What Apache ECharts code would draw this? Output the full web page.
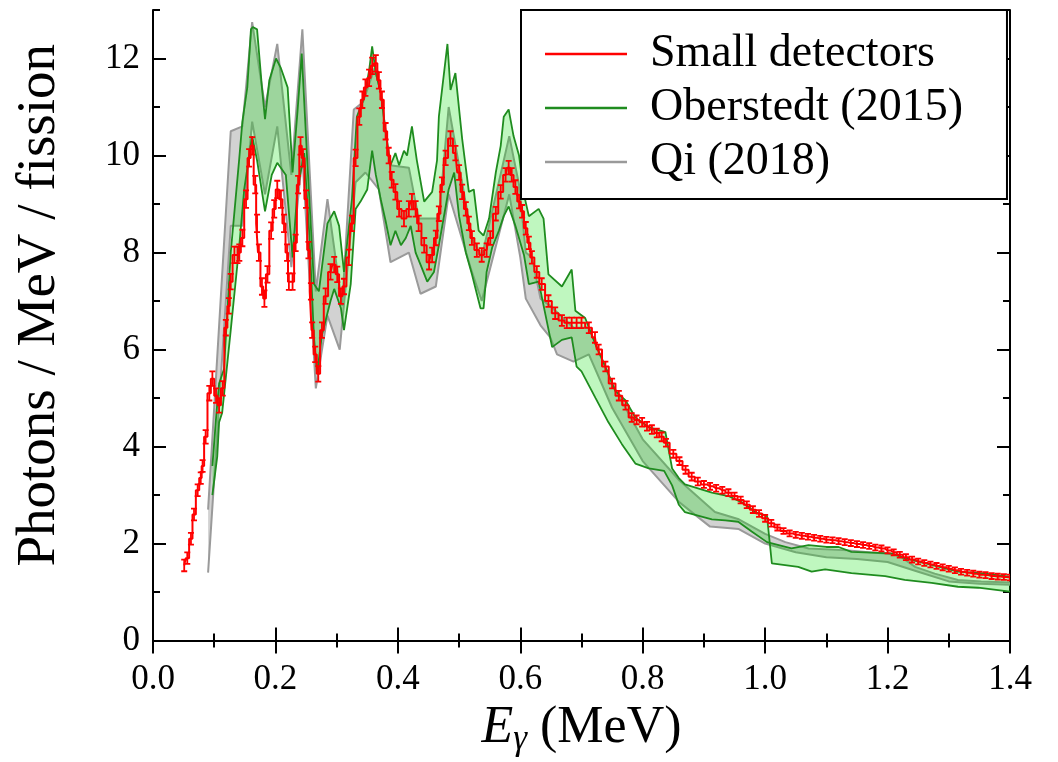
<!DOCTYPE html>
<html>
<head>
<meta charset="utf-8">
<script src="https://cdn.jsdelivr.net/npm/echarts@6/dist/echarts.min.js"></script>
<style>
  html, body { margin: 0; padding: 0; background: #fff; }
  #chart { width: 1058px; height: 762px; }
</style>
</head>
<body>
<div id="chart"></div>
<script>
// Small detectors: [E (MeV), photons/MeV/fission, error]
const smallDet = [
  [0.051,1.55,0.12],[0.056,1.70,0.12],[0.062,2.10,0.12],[0.067,2.60,0.12],[0.073,3.10,0.12],
  [0.078,3.35,0.12],[0.081,3.60,0.12],[0.086,4.20,0.14],[0.092,5.10,0.15],[0.097,5.40,0.15],
  [0.103,5.05,0.15],[0.108,4.85,0.15],[0.114,5.20,0.15],[0.119,6.45,0.16],[0.124,6.90,0.16],
  [0.127,7.40,0.16],[0.133,7.95,0.17],[0.138,7.95,0.17],[0.141,8.00,0.17],[0.146,8.30,0.17],
  [0.152,9.10,0.18],[0.157,9.95,0.18],[0.162,10.20,0.18],[0.167,9.40,0.18],[0.170,8.60,0.18],
  [0.173,8.00,0.17],[0.178,7.30,0.17],[0.182,7.05,0.17],[0.187,7.55,0.17],[0.193,8.45,0.17],
  [0.198,8.90,0.18],[0.203,9.30,0.18],[0.209,9.10,0.18],[0.214,8.60,0.18],[0.219,8.00,0.17],
  [0.222,7.40,0.17],[0.228,7.40,0.17],[0.233,8.20,0.17],[0.237,9.40,0.18],[0.241,10.20,0.18],
  [0.245,9.95,0.18],[0.250,9.10,0.18],[0.254,8.05,0.17],[0.258,7.20,0.17],[0.260,6.40,0.16],
  [0.265,5.90,0.16],[0.270,5.50,0.16],[0.276,6.40,0.16],[0.282,7.10,0.16],[0.290,7.60,0.16],
  [0.296,7.75,0.16],[0.301,7.55,0.16],[0.307,7.10,0.16],[0.312,7.30,0.16],[0.320,7.90,0.16],
  [0.325,8.60,0.16],[0.331,9.95,0.17],[0.337,10.80,0.17],[0.342,11.15,0.17],[0.347,11.40,0.17],
  [0.353,11.60,0.17],[0.358,11.85,0.17],[0.364,11.90,0.17],[0.369,11.55,0.17],[0.374,11.15,0.17],
  [0.380,10.50,0.17],[0.385,10.00,0.16],[0.390,9.50,0.16],[0.396,9.25,0.16],[0.402,8.90,0.16],
  [0.410,8.70,0.16],[0.418,8.90,0.16],[0.423,9.05,0.16],[0.429,8.90,0.16],[0.434,8.60,0.16],
  [0.443,8.15,0.15],[0.451,7.80,0.15],[0.456,7.95,0.15],[0.462,8.30,0.15],[0.467,8.80,0.15],
  [0.472,9.40,0.15],[0.478,9.95,0.15],[0.486,10.35,0.15],[0.494,10.05,0.15],[0.500,9.65,0.15],
  [0.505,9.25,0.15],[0.511,8.90,0.14],[0.516,8.60,0.14],[0.521,8.30,0.14],[0.529,8.05,0.14],
  [0.537,7.95,0.14],[0.545,8.05,0.14],[0.551,8.30,0.14],[0.560,8.80,0.14],[0.568,9.25,0.14],
  [0.576,9.60,0.14],[0.581,9.75,0.14],[0.586,9.60,0.14],[0.592,9.35,0.14],[0.598,9.05,0.14],
  [0.603,8.85,0.13],[0.609,8.50,0.13],[0.614,8.20,0.13],[0.619,7.90,0.13],[0.627,7.60,0.12],
  [0.635,7.35,0.12],[0.646,7.00,0.12],[0.657,6.75,0.12],[0.668,6.60,0.11],[0.676,6.55,0.11],
  [0.684,6.55,0.11],[0.692,6.55,0.11],[0.700,6.55,0.11],[0.712,6.45,0.11],[0.722,6.25,0.11],
  [0.728,6.00,0.10],[0.739,5.65,0.10],[0.750,5.30,0.10],[0.761,5.05,0.10],[0.772,4.85,0.09],
  [0.782,4.60,0.09],[0.790,4.55,0.09],[0.799,4.50,0.09],[0.807,4.42,0.09],[0.815,4.35,0.09],
  [0.823,4.28,0.09],[0.831,4.20,0.09],[0.838,4.08,0.08],[0.850,3.85,0.08],[0.860,3.70,0.08],
  [0.870,3.52,0.08],[0.880,3.38,0.08],[0.890,3.28,0.08],[0.900,3.22,0.07],[0.910,3.18,0.07],
  [0.920,3.14,0.07],[0.930,3.10,0.07],[0.940,3.05,0.07],[0.950,2.98,0.07],[0.960,2.90,0.07],
  [0.970,2.80,0.07],[0.980,2.70,0.07],[0.990,2.62,0.07],[1.000,2.52,0.07],[1.010,2.42,0.07],
  [1.020,2.33,0.06],[1.030,2.26,0.06],[1.040,2.21,0.06],[1.050,2.18,0.06],[1.060,2.16,0.06],
  [1.070,2.14,0.06],[1.080,2.12,0.06],[1.090,2.10,0.06],[1.100,2.08,0.06],[1.110,2.07,0.06],
  [1.120,2.05,0.06],[1.130,2.03,0.06],[1.140,2.01,0.06],[1.150,1.99,0.06],[1.160,1.97,0.06],
  [1.170,1.95,0.06],[1.180,1.92,0.06],[1.190,1.90,0.06],[1.200,1.86,0.06],[1.210,1.82,0.06],
  [1.220,1.77,0.06],[1.230,1.72,0.06],[1.240,1.67,0.06],[1.250,1.63,0.06],[1.260,1.60,0.06],
  [1.270,1.57,0.06],[1.280,1.54,0.06],[1.290,1.51,0.06],[1.300,1.48,0.06],[1.310,1.45,0.06],
  [1.320,1.42,0.06],[1.330,1.40,0.06],[1.340,1.38,0.06],[1.350,1.36,0.06],[1.360,1.35,0.06],
  [1.370,1.33,0.06],[1.380,1.32,0.06],[1.390,1.31,0.06],[1.400,1.30,0.06]
];

// Oberstedt (2015) band edges
const oberUpper = [
  [0.097,3.6],[0.104,4.75],[0.108,5.3],[0.116,5.6],[0.127,8.0],[0.141,9.95],[0.146,10.7],
  [0.154,11.4],[0.160,12.6],[0.163,12.65],[0.170,12.6],[0.178,11.4],[0.183,10.75],[0.190,11.55],
  [0.201,12.0],[0.209,11.8],[0.220,11.4],[0.228,9.65],[0.236,10.9],[0.243,12.1],[0.252,9.9],
  [0.263,7.35],[0.271,7.2],[0.285,8.6],[0.296,8.85],[0.304,8.55],[0.312,7.6],[0.325,9.1],
  [0.333,10.8],[0.345,11.2],[0.353,11.75],[0.358,12.25],[0.364,11.7],[0.372,11.3],[0.380,10.5],
  [0.388,9.8],[0.396,10.05],[0.402,9.8],[0.410,10.1],[0.415,10.0],[0.423,10.6],[0.431,9.9],
  [0.443,9.05],[0.456,9.25],[0.464,9.9],[0.467,10.8],[0.481,12.3],[0.486,11.35],[0.494,11.7],
  [0.505,10.35],[0.516,9.25],[0.524,9.3],[0.532,8.45],[0.540,8.35],[0.549,8.7],[0.560,9.65],
  [0.568,10.2],[0.573,10.8],[0.581,10.95],[0.589,10.4],[0.598,10.0],[0.606,9.2],[0.614,8.75],
  [0.630,8.9],[0.638,8.7],[0.646,7.55],[0.668,7.3],[0.684,7.65],[0.690,6.8],[0.706,6.65],
  [0.723,6.1],[0.739,5.65],[0.755,5.15],[0.772,4.95],[0.788,4.6],[0.810,4.4],[0.837,4.3],
  [0.848,3.55],[0.859,3.35],[0.869,3.22],[0.913,3.05],[0.940,2.98],[0.962,2.85],[0.984,2.65],
  [1.003,2.57],[1.011,1.59],[1.054,1.52],[1.076,1.42],[1.098,1.47],[1.141,1.39],[1.196,1.33],
  [1.228,1.25],[1.272,1.19],[1.315,1.11],[1.348,1.09],[1.400,1.01]
];
const oberLower = [
  [0.097,3.0],[0.105,3.8],[0.108,4.5],[0.113,4.7],[0.127,6.4],[0.141,8.15],[0.149,9.3],
  [0.162,10.4],[0.170,9.9],[0.183,8.85],[0.194,9.6],[0.203,9.85],[0.217,9.6],[0.228,7.9],
  [0.236,9.3],[0.247,10.05],[0.255,8.45],[0.263,6.25],[0.268,5.5],[0.276,6.3],[0.290,7.0],
  [0.296,7.25],[0.307,6.85],[0.312,6.4],[0.323,7.35],[0.331,8.9],[0.339,9.05],[0.350,9.3],
  [0.358,10.1],[0.364,9.6],[0.372,9.1],[0.380,8.65],[0.388,8.15],[0.396,8.45],[0.405,8.15],
  [0.413,8.3],[0.421,8.55],[0.429,8.0],[0.437,7.75],[0.448,7.4],[0.459,7.6],[0.467,8.15],
  [0.483,9.3],[0.492,9.65],[0.500,8.75],[0.511,8.0],[0.521,7.55],[0.529,7.15],[0.535,6.85],
  [0.540,6.85],[0.545,7.6],[0.554,8.1],[0.565,8.45],[0.573,8.75],[0.581,8.95],[0.592,8.55],
  [0.606,7.95],[0.614,7.35],[0.630,7.4],[0.652,6.05],[0.668,6.2],[0.684,6.25],[0.692,5.65],
  [0.700,5.55],[0.723,5.0],[0.744,4.5],[0.766,4.05],[0.788,3.65],[0.810,3.55],[0.835,3.5],
  [0.848,3.2],[0.859,2.8],[0.869,2.65],[0.913,2.5],[0.935,2.48],[0.956,2.45],[0.978,2.25],
  [1.003,2.03],[1.043,1.9],[1.071,1.97],[1.100,1.93],[1.120,1.93],[1.141,1.83],[1.206,1.8],
  [1.228,1.7],[1.272,1.56],[1.315,1.42],[1.353,1.39],[1.400,1.32]
];

// Qi (2018) band edges
const qiUpper = [
  [0.090,2.7],[0.127,10.5],[0.146,10.6],[0.162,12.75],[0.183,11.0],[0.203,12.3],[0.226,9.6],
  [0.244,12.6],[0.266,7.2],[0.285,9.1],[0.309,6.9],[0.328,10.95],[0.343,11.1],[0.362,11.8],
  [0.372,11.3],[0.387,9.8],[0.418,9.75],[0.434,8.7],[0.467,8.7],[0.483,11.0],[0.521,8.3],
  [0.537,7.9],[0.582,10.4],[0.598,9.4],[0.609,8.0],[0.619,7.9],[0.633,7.05],[0.649,6.9],
  [0.687,6.45],[0.712,6.45],[0.750,5.3],[0.800,4.15],[0.860,3.3],[0.918,2.65],[0.957,2.5],
  [1.000,2.2],[1.033,2.03],[1.071,1.9],[1.136,1.86],[1.217,1.77],[1.245,1.52],[1.277,1.38],
  [1.315,1.25],[1.353,1.22],[1.400,1.2]
];
const qiLower = [
  [0.090,1.4],[0.127,8.55],[0.146,8.55],[0.162,10.7],[0.183,9.2],[0.203,10.6],[0.226,7.7],
  [0.244,10.0],[0.266,5.2],[0.285,6.7],[0.305,6.0],[0.331,9.45],[0.347,9.65],[0.369,9.3],
  [0.388,7.8],[0.418,8.0],[0.437,7.15],[0.462,7.3],[0.483,9.2],[0.521,7.6],[0.537,7.0],
  [0.582,9.2],[0.600,7.9],[0.609,7.05],[0.633,6.5],[0.649,6.25],[0.660,5.9],[0.687,5.75],
  [0.712,5.9],[0.750,4.8],[0.800,3.7],[0.860,2.85],[0.910,2.35],[0.957,2.3],[1.000,2.0],
  [1.050,1.82],[1.100,1.72],[1.150,1.68],[1.200,1.62],[1.250,1.42],[1.300,1.22],[1.350,1.17],
  [1.400,1.15]
];

const FONT = 'Liberation Serif, DejaVu Serif, serif';
const RED = '#ff0000';
const GREEN = '#1f8c1f';
const GREY = '#9a9a9a';

const chart = echarts.init(document.getElementById('chart'));

// filled region between two edges, drawn once as a polygon
function band(upper, lower, fill, z) {
  return {
    type: 'custom',
    z: z,
    silent: true,
    clip: true,
    data: [upper[0]],
    encode: { x: 0, y: 1 },
    renderItem: (params, api) => {
      const pts = upper.concat(lower.slice().reverse()).map((p) => api.coord(p));
      return { type: 'polygon', shape: { points: pts }, style: { fill: fill } };
    },
  };
}

function edge(name, data, color, width, z) {
  return {
    type: 'line',
    name: name,
    data: data,
    z: z,
    color: color,
    symbol: 'none',
    clip: true,
    lineStyle: { color: color, width: width },
  };
}

const axisLine = { show: true, lineStyle: { color: '#000', width: 2 } };
const tickStyle = { color: '#000', width: 2 };

function yAx(pos, interval, len, showLine, extra) {
  return Object.assign({
    type: 'value',
    min: 0,
    max: 13,
    interval: interval,
    position: pos,
    axisLine: showLine ? axisLine : { show: false },
    axisTick: { show: true, inside: true, length: len, lineStyle: tickStyle },
    axisLabel: { show: false },
    splitLine: { show: false },
  }, extra || {});
}

function xAx(pos, extra) {
  return Object.assign({
    type: 'value',
    min: 0,
    max: 1.4,
    interval: 0.2,
    position: pos,
    axisLine: axisLine,
    axisTick: { show: true, inside: true, length: 13, lineStyle: tickStyle },
    minorTick: { show: true, splitNumber: 2, length: 7, lineStyle: tickStyle },
    axisLabel: { show: false },
    splitLine: { show: false },
  }, extra || {});
}

const option = {
  animation: false,
  backgroundColor: '#fff',
  grid: { left: 153, right: 48, top: 10, bottom: 115, containLabel: false },
  legend: {
    orient: 'vertical',
    left: 521,
    top: 10,
    z: 20,
    padding: [20, 44, 13, 24],
    itemGap: 6,
    itemWidth: 82,
    itemHeight: 2.5,
    icon: 'rect',
    backgroundColor: '#fff',
    borderColor: '#000',
    borderWidth: 2,
    borderRadius: 0,
    selectedMode: false,
    textStyle: { fontFamily: FONT, fontSize: 46, color: '#000', lineHeight: 48, padding: [0, 0, 0, 18] },
    data: ['Small detectors', 'Oberstedt (2015)', 'Qi (2018)'],
  },
  xAxis: [
    xAx('bottom', {
      axisLabel: {
        show: true,
        fontFamily: FONT,
        fontSize: 35,
        color: '#000',
        margin: 22,
        formatter: (v) => v.toFixed(1),
      },
      name: '{i|E}{s|γ} (MeV)',
      nameLocation: 'middle',
      nameGap: 59,
      nameTextStyle: {
        fontFamily: FONT,
        fontSize: 52,
        color: '#000',
        rich: {
          i: { fontFamily: FONT, fontSize: 52, fontStyle: 'italic', color: '#000' },
          s: { fontFamily: FONT, fontSize: 35, fontStyle: 'italic', color: '#000', padding: [22, 0, 0, 0] },
        },
      },
    }),
    xAx('top'),
  ],
  yAxis: [
    yAx('left', 2, 13, true, {
      axisLabel: {
        show: true,
        fontFamily: FONT,
        fontSize: 35,
        color: '#000',
        margin: 13,
        showMaxLabel: false,
      },
      name: 'Photons / MeV / fission',
      nameLocation: 'middle',
      nameGap: 86,
      nameTextStyle: { fontFamily: FONT, fontSize: 55, color: '#000', padding: [0, 0, 0, 40] },
    }),
    yAx('left', 1, 7, false),
    yAx('right', 2, 13, true),
    yAx('right', 1, 7, false),
  ],
  series: [
    band(qiUpper, qiLower, '#d2d2d2', 1),
    edge('Qi (2018)', qiUpper, GREY, 2, 2),
    edge('Qi (2018)', qiLower, GREY, 2, 2),
    band(oberUpper, oberLower, 'rgba(0, 225, 0, 0.25)', 3),
    edge('Oberstedt (2015)', oberUpper, GREEN, 1.8, 4),
    edge('Oberstedt (2015)', oberLower, GREEN, 1.8, 4),
    {
      type: 'line',
      name: 'Small detectors',
      data: smallDet.map((d) => [d[0], d[1]]),
      step: 'middle',
      z: 5,
      color: RED,
      symbol: 'none',
      clip: true,
      lineStyle: { color: RED, width: 2 },
    },
    {
      type: 'custom',
      z: 6,
      silent: true,
      clip: true,
      data: smallDet,
      encode: { x: 0, y: 1 },
      renderItem: (params, api) => {
        const x = api.value(0);
        const y = api.value(1);
        const e = api.value(2);
        const top = api.coord([x, y + e]);
        const bot = api.coord([x, y - e]);
        const c = 3;
        const st = { stroke: RED, lineWidth: 1.8 };
        return {
          type: 'group',
          children: [
            { type: 'line', shape: { x1: top[0], y1: top[1], x2: bot[0], y2: bot[1] }, style: st },
            { type: 'line', shape: { x1: top[0] - c, y1: top[1], x2: top[0] + c, y2: top[1] }, style: st },
            { type: 'line', shape: { x1: bot[0] - c, y1: bot[1], x2: bot[0] + c, y2: bot[1] }, style: st },
          ],
        };
      },
    },
  ],
};

chart.setOption(option);
</script>
</body>
</html>
